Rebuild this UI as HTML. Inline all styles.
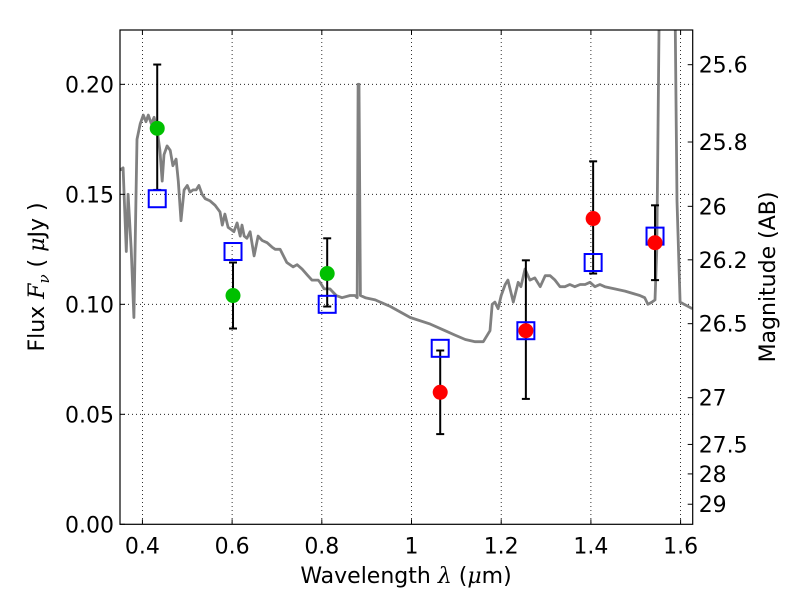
<!DOCTYPE html>
<html><head><meta charset="utf-8"><style>
body{margin:0;background:#fff}
svg{display:block;font-family:"DejaVu Sans","Liberation Sans",sans-serif}
</style></head><body>
<svg id="chart" width="800" height="600" viewBox="0 0 800 600" xmlns="http://www.w3.org/2000/svg">
<defs><clipPath id="clip"><rect x="120" y="30" width="572.7" height="494.3"/></clipPath></defs>
<rect width="800" height="600" fill="#fff"/>
<g id="grid"></g>
<g id="spec" clip-path="url(#clip)"></g>
<g id="marks"></g>
<rect x="120" y="30" width="572.7" height="494.3" fill="none" stroke="#000" stroke-width="1.2"/>
<g id="axes" font-size="22"></g>
<text x="406" y="583" font-size="22" text-anchor="middle">Wavelength  <tspan font-style="italic" font-family="DejaVu Serif, serif">λ</tspan> (<tspan font-style="italic" font-family="DejaVu Serif, serif">μ</tspan>m)</text>
<text transform="translate(44,277) rotate(-90)" font-size="22" text-anchor="middle">Flux  <tspan font-style="italic" font-family="DejaVu Serif, serif">F<tspan font-size="15" dy="5">ν</tspan></tspan><tspan dy="-5">  (  </tspan><tspan font-style="italic" font-family="DejaVu Serif, serif">μ</tspan>Jy )</text>
<text transform="translate(775,277) rotate(-90)" font-size="22" text-anchor="middle">Magnitude (AB)</text>
</svg>
<script>
const specLam=[0.350,0.357,0.364,0.368,0.375,0.381,0.388,0.395,0.402,0.408,0.413,0.420,0.426,0.433,0.439,0.444,0.448,0.455,0.462,0.468,0.475,0.480,0.486,0.493,0.500,0.506,0.513,0.520,0.526,0.533,0.540,0.551,0.562,0.573,0.578,0.584,0.591,0.598,0.604,0.611,0.618,0.622,0.627,0.633,0.640,0.649,0.658,0.667,0.678,0.689,0.696,0.707,0.722,0.736,0.745,0.756,0.769,0.778,0.792,0.796,0.805,0.818,0.832,0.845,0.863,0.874,0.879,0.881,0.883,0.886,0.897,0.919,0.953,0.997,1.042,1.075,1.097,1.120,1.142,1.160,1.175,1.180,1.186,1.193,1.200,1.209,1.215,1.227,1.238,1.244,1.253,1.264,1.275,1.287,1.298,1.309,1.320,1.331,1.342,1.353,1.364,1.376,1.387,1.398,1.409,1.420,1.431,1.453,1.476,1.509,1.520,1.527,1.536,1.543,1.547,1.552,1.561,1.583,1.592,1.599,1.626];
const specFlux=[0.161,0.162,0.124,0.150,0.125,0.094,0.175,0.182,0.186,0.183,0.186,0.182,0.185,0.179,0.170,0.156,0.168,0.172,0.170,0.163,0.166,0.156,0.138,0.152,0.154,0.151,0.152,0.152,0.154,0.150,0.148,0.147,0.145,0.142,0.136,0.141,0.135,0.134,0.133,0.137,0.131,0.136,0.131,0.130,0.133,0.122,0.131,0.129,0.128,0.126,0.125,0.125,0.119,0.117,0.118,0.116,0.113,0.111,0.111,0.110,0.107,0.107,0.104,0.103,0.104,0.104,0.103,0.200,0.200,0.104,0.103,0.102,0.099,0.094,0.091,0.088,0.086,0.084,0.083,0.083,0.088,0.100,0.101,0.098,0.104,0.109,0.111,0.101,0.110,0.108,0.116,0.111,0.112,0.108,0.113,0.113,0.111,0.108,0.108,0.109,0.108,0.109,0.109,0.110,0.108,0.109,0.108,0.107,0.106,0.104,0.103,0.100,0.101,0.102,0.125,0.229,0.330,0.330,0.147,0.101,0.098];
const greenLam=[0.433,0.602,0.812];
const greenFlux=[0.180,0.104,0.114];
const greenLo=[0.152,0.089,0.099];
const greenHi=[0.209,0.119,0.130];
const redLam=[1.064,1.255,1.405,1.543];
const redFlux=[0.060,0.088,0.139,0.128];
const redLo=[0.041,0.057,0.114,0.111];
const redHi=[0.079,0.120,0.165,0.145];
const modelLam=[0.433,0.602,0.812,1.064,1.255,1.405,1.543];
const modelFlux=[0.148,0.124,0.100,0.080,0.088,0.119,0.131];
const xTicks=[0.4,0.6,0.8,1.0,1.2,1.4,1.6];
const xTickLabels=["0.4","0.6","0.8","1","1.2","1.4","1.6"];
const yTicks=[0,0.05,0.10,0.15,0.20];
const yTickLabels=["0.00","0.05","0.10","0.15","0.20"];
const magTicks=[25.6,25.8,26,26.2,26.5,27,27.5,28,29];
const magTickLabels=["25.6","25.8","26","26.2","26.5","27","27.5","28","29"];

const X0=120,X1=692.7,Y0=524.3,Y1=30,XMIN=0.35,XMAX=1.627,YMIN=0,YMAX=0.2247;
const sx=v=>X0+(v-XMIN)/(XMAX-XMIN)*(X1-X0);
const sy=v=>Y0-(v-YMIN)/(YMAX-YMIN)*(Y0-Y1);
const magToFlux=m=>Math.pow(10,(23.9-m)/2.5);
const NS="http://www.w3.org/2000/svg";
function mk(tag,parent,attrs){const e=document.createElementNS(NS,tag);for(const k in attrs)e.setAttribute(k,attrs[k]);parent.appendChild(e);return e;}
const grid=document.getElementById('grid'),axes=document.getElementById('axes'),spec=document.getElementById('spec'),marks=document.getElementById('marks');
xTicks.forEach((t,i)=>{
  const gl=mk('line',grid,{x1:sx(t),x2:sx(t),y1:Y1,y2:Y0,stroke:'#000','stroke-width':0.8,'stroke-dasharray':'1,3'});
  
  
  mk('line',axes,{x1:sx(t),x2:sx(t),y1:Y0,y2:Y0-5,stroke:'#000'});
  mk('line',axes,{x1:sx(t),x2:sx(t),y1:Y1,y2:Y1+5,stroke:'#000'});
  const tx=mk('text',axes,{x:sx(t),y:Y0+29,'text-anchor':'middle'});
  tx.textContent=xTickLabels[i];
  
  
});
yTicks.forEach((t,i)=>{
  if(t>0){const gl=mk('line',grid,{x1:X0,x2:X1,y1:sy(t),y2:sy(t),stroke:'#000','stroke-width':0.8,'stroke-dasharray':'1,3'});
  
  }
  mk('line',axes,{x1:X0,x2:X0+5,y1:sy(t),y2:sy(t),stroke:'#000'});
  const tx=mk('text',axes,{x:X0-6,y:sy(t)+8,'text-anchor':'end'});
  tx.textContent=yTickLabels[i];
  
  
});
magTicks.forEach((m,i)=>{
  const y=sy(magToFlux(m));
  mk('line',axes,{x1:X1,x2:X1-5,y1:y,y2:y,stroke:'#000'});
  const tx=mk('text',axes,{x:X1+6,y:y+8,'text-anchor':'start'});
  tx.textContent=magTickLabels[i];
  
  
});
let d='';specLam.forEach((l,i)=>{d+=(i?'L':'M')+sx(l).toFixed(1)+','+sy(specFlux[i]).toFixed(1);});
const sp=mk('path',spec,{d:d,fill:'none',stroke:'#808080','stroke-width':2.8,'stroke-linejoin':'round'});


function errbar(l,lo,hi){
  const g=mk('g',marks,{stroke:'#000','stroke-width':2});
  
  
  mk('line',g,{x1:sx(l),x2:sx(l),y1:sy(lo),y2:sy(hi)});
  mk('line',g,{x1:sx(l)-4,x2:sx(l)+4,y1:sy(lo),y2:sy(lo)});
  mk('line',g,{x1:sx(l)-4,x2:sx(l)+4,y1:sy(hi),y2:sy(hi)});
}
greenLam.forEach((l,i)=>errbar(l,greenLo[i],greenHi[i]));
redLam.forEach((l,i)=>errbar(l,redLo[i],redHi[i]));
modelLam.forEach((l,i)=>{
  const r=mk('rect',marks,{x:sx(l)-8.5,y:sy(modelFlux[i])-8.5,width:17,height:17,fill:'none',stroke:'#0000ff','stroke-width':2});
  
  
});
greenLam.forEach((l,i)=>{
  const c=mk('circle',marks,{cx:sx(l),cy:sy(greenFlux[i]),r:7.5,fill:'#00c000'});
  
  
});
redLam.forEach((l,i)=>{
  const c=mk('circle',marks,{cx:sx(l),cy:sy(redFlux[i]),r:7.5,fill:'#ff0000'});
  
  
});
</script>
</body></html>
